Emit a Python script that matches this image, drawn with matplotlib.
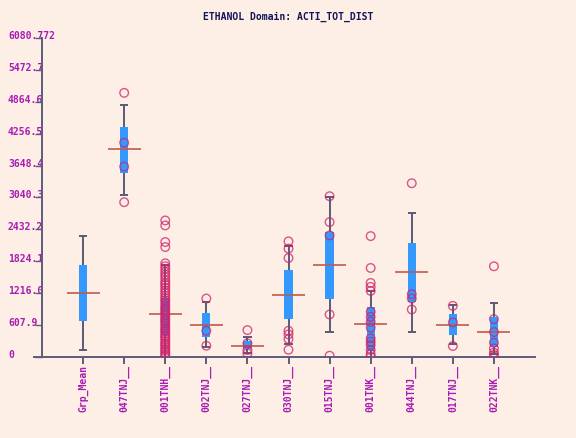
import numpy as np
import matplotlib
matplotlib.use("Agg")
import matplotlib.pyplot as plt
from matplotlib import transforms

# data
groups = ["Grp_Mean", "047TNJ__", "001TNH__", "002TNJ__", "027TNJ__", "030TNJ__",
          "015TNJ__", "001TNK__", "044TNJ__", "017TNJ__", "022TNK__"]
q1 = [684, 3515, 420, 386, 160, 716, 1115, 110, 1051, 418, 196]
q3 = [1761, 4376, 1130, 842, 300, 1653, 2381, 944, 2179, 811, 766]
whisk_lo = [139, 3091, 0, 196, 80, 253, 481, 0, 469, 241, 60]
whisk_hi = [2299, 4813, 1760, 1051, 385, 2109, 3046, 1250, 2749, 988, 1032]
means = [1216, 3958, 814, 608, 218, 1191, 1761, 627, 1621, 608, 469]
points = [
    [],
    [5035, 4085, 3629, 2951],
    [2603, 2508, 2191, 2096, 1786, 1730, 1680, 1625, 1570, 1520, 1460, 1410, 1370,
     1320, 1270, 1220, 1170, 1120, 1080, 1040, 990, 950, 910, 870, 830, 790, 750,
     710, 680, 640, 600, 560, 520, 490, 450, 410, 380, 340, 300, 260, 230, 190,
     150, 120, 80, 40, 10],
    [1115, 500, 215],
    [513, 260, 133, 70],
    [2204, 2065, 1887, 500, 431, 342, 139],
    [3065, 2571, 2318, 811, 25],
    [2305, 1697, 1412, 1336, 1260, 861, 766, 671, 560, 355, 291, 228, 133, 51, 5],
    [3312, 1197, 1115, 906],
    [975, 659, 209],
    [1729, 722, 475, 272, 165, 82, 38],
]
ytick_vals = [0, 608.08, 1216.15, 1824.23, 2432.31, 3040.39, 3648.46, 4256.54,
              4864.62, 5472.69, 6080.772]
ytick_text = ["0", "607.9", "1216.0", "1824.1", "2432.2", "3040.3", "3648.4",
              "4256.5", "4864.6", "5472.7", "6080.772"]

bg = "#fdefe5"
axis_col = "#5c5c7c"
lab_col = "#a81cb4"
mono = "DejaVu Sans Mono"

fig = plt.figure(figsize=(5.76, 4.38), dpi=100, facecolor=bg)
ax = fig.add_axes([42/576, 1-357/438, 493/576, 319/438])
ax.set_facecolor(bg)
ax.set_xlim(0, 12)
ax.set_ylim(0, 6080.772)

x = np.arange(1, len(groups)+1)

# whiskers + caps
ax.vlines(x, whisk_lo, whisk_hi, color="#5a5a78", lw=1.4, zorder=2)
ax.hlines(whisk_lo, x-0.1, x+0.1, color="#5a5a78", lw=1.4, zorder=2)
ax.hlines(whisk_hi, x-0.1, x+0.1, color="#5a5a78", lw=1.4, zorder=2)
# boxes
ax.bar(x, np.array(q3)-np.array(q1), bottom=q1, width=0.2, color="#3399ff",
       edgecolor="none", zorder=3)
# mean lines
ax.hlines(means, x-0.4, x+0.4, color="#c05a50", lw=1.2, zorder=4)
# data circles
for i, pts in enumerate(points):
    if pts:
        ax.scatter(np.full(len(pts), x[i]), pts, s=38, facecolors="none",
                   edgecolors="#d0206a", linewidths=1.0, alpha=0.75, zorder=5)

for s in ["top", "right"]:
    ax.spines[s].set_visible(False)
for s in ["left", "bottom"]:
    ax.spines[s].set_color(axis_col)
    ax.spines[s].set_linewidth(1.4)
ax.spines["bottom"].set_bounds(-0.2, 12)

ax.set_xticks(x)
ax.set_xticklabels(groups, rotation=90, fontsize=7, fontweight="bold",
                   family=mono, color=lab_col, va="top")
ax.tick_params(axis="x", length=5, width=1.4, color=axis_col, pad=1)
ax.set_yticks(ytick_vals)
ax.set_yticklabels([])
ax.tick_params(axis="y", length=5, width=1.0, color=axis_col)

tr = transforms.blended_transform_factory(fig.transFigure, ax.transData)
tr = transforms.offset_copy(tr, fig=fig, x=0, y=2, units="dots")
for v, t in zip(ytick_vals, ytick_text):
    ax.text(8/576, v, t, transform=tr, ha="left", va="center", fontsize=7,
            fontweight="bold", family=mono, color=lab_col, zorder=1)

fig.text(0.5, 1-17/438, "ETHANOL Domain: ACTI_TOT_DIST", ha="center", va="center",
         fontsize=7, fontweight="bold", family=mono, color="#14145a")

fig.savefig("out.png", dpi=100, facecolor=bg)
